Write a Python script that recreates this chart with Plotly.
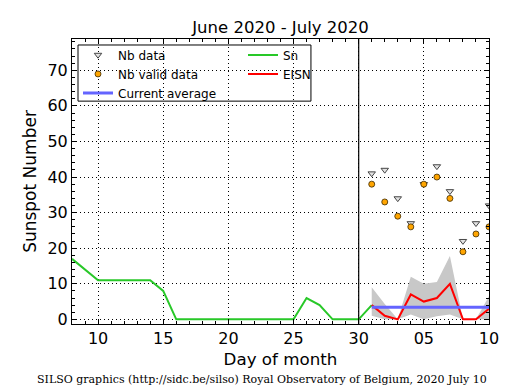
import plotly.graph_objects as go

# ---- data ----
sn_days = [8, 9, 10, 11, 12, 13, 14, 15, 16, 17, 18, 19, 20, 21, 22, 23, 24, 25, 26, 27, 28, 29, 30, 31]
sn_values = [17, 14, 11, 11, 11, 11, 11, 8, 0, 0, 0, 0, 0, 0, 0, 0, 0, 0, 6, 4, 0, 0, 0, 4]

eisn_days = [31, 32, 33, 34, 35, 36, 37, 38, 39, 40]
eisn_values = [4, 1, 0, 7, 5, 6, 10, 0, 0, 3]
eisn_upper = [9, 4.3, 0, 12, 10, 10.5, 17.8, 0, 0, 6.5]
eisn_lower = [1, 0, 0, 1.4, 0, 0.9, 1.4, 0, 0, 0]

nb_data = [41, 42, 34, 27, 38, 43, 36, 22, 27, 32]
nb_valid = [38, 33, 29, 26, 38, 40, 34, 19, 24, 26]

current_average = 3.4

tick_vals = [10, 15, 20, 25, 30, 35, 40]
tick_text = ["10", "15", "20", "25", "30", "05", "10"]
month_boundary = 30

FONT = "DejaVu Sans"

fig = go.Figure()

# uncertainty band
fig.add_trace(go.Scatter(x=eisn_days, y=eisn_upper, mode="lines", line=dict(width=0),
                         showlegend=False, hoverinfo="skip"))
fig.add_trace(go.Scatter(x=eisn_days, y=eisn_lower, mode="lines", line=dict(width=0),
                         fill="tonexty", fillcolor="rgb(200,200,200)",
                         showlegend=False, hoverinfo="skip"))

# legend order (row-wise): Nb data, Sn, Nb valid data, EISN, Current average
fig.add_trace(go.Scatter(x=eisn_days, y=nb_data, mode="markers", name="Nb data",
                         marker=dict(symbol="triangle-down", size=6.5, color="rgb(225,225,225)",
                                     line=dict(color="rgb(70,70,70)", width=1))))
fig.add_trace(go.Scatter(x=sn_days, y=sn_values, mode="lines", name="Sn",
                         line=dict(color="rgb(40,200,40)", width=2)))
fig.add_trace(go.Scatter(x=eisn_days, y=nb_valid, mode="markers", name="Nb valid data",
                         marker=dict(symbol="circle", size=6, color="orange",
                                     line=dict(color="rgb(60,40,0)", width=0.8))))
fig.add_trace(go.Scatter(x=eisn_days, y=eisn_values, mode="lines", name="EISN",
                         line=dict(color="red", width=2)))
fig.add_trace(go.Scatter(x=[eisn_days[0], eisn_days[-1]], y=[current_average, current_average],
                         mode="lines", name="Current average",
                         line=dict(color="rgb(100,100,255)", width=3)))

# month boundary line
fig.add_shape(type="line", xref="x", yref="paper", x0=month_boundary, x1=month_boundary,
              y0=0, y1=1, line=dict(color="black", width=1.2), layer="above")

# legend box
fig.add_shape(type="rect", xref="paper", yref="paper", x0=0.0144, x1=0.573, y0=0.782, y1=0.979,
              line=dict(color="black", width=1), fillcolor="white", layer="between")

fig.update_layout(
    width=515, height=390,
    margin=dict(l=72, r=26, t=39, b=66),
    paper_bgcolor="white", plot_bgcolor="white",
    font=dict(family=FONT, color="black"),
    title=dict(text="June 2020 - July 2020", x=0.5, xanchor="center", y=0.93, yanchor="middle",
               xref="paper", font=dict(size=16.5, family=FONT)),
    showlegend=True,
    legend=dict(orientation="h", x=0.0144, y=0.995, xanchor="left", yanchor="top",
                bgcolor="rgba(0,0,0,0)", borderwidth=0, entrywidth=120,
                font=dict(size=12, family=FONT), itemwidth=30, traceorder="normal"),
    annotations=[dict(text="SILSO graphics (http://sidc.be/silso) Royal Observatory of Belgium, 2020 July 10",
                      xref="paper", yref="paper", x=0.455, y=-0.193, xanchor="center", yanchor="middle",
                      showarrow=False, font=dict(family="DejaVu Serif", size=11, color="black"))],
)

fig.update_xaxes(range=[8, 40], tickvals=tick_vals, ticktext=tick_text,
                 showline=True, linecolor="black", linewidth=1, mirror="ticks",
                 ticks="inside", ticklen=5, tickcolor="black",
                 showgrid=True, gridcolor="black", griddash="1px,3px", gridwidth=1,
                 zeroline=False, tickfont=dict(size=16),
                 title=dict(text="Day of month", font=dict(size=16.7), standoff=6),
                 minor=dict(dtick=1, ticks="inside", ticklen=3, tickcolor="black", showgrid=False))
fig.update_yaxes(range=[-1.3, 78.8], tickvals=[0, 10, 20, 30, 40, 50, 60, 70],
                 showline=True, linecolor="black", linewidth=1, mirror="ticks",
                 ticks="inside", ticklen=5, tickcolor="black",
                 showgrid=True, gridcolor="black", griddash="1px,3px", gridwidth=1,
                 zeroline=False, tickfont=dict(size=16),
                 title=dict(text="Sunspot Number", font=dict(size=17), standoff=6),
                 minor=dict(dtick=2, ticks="inside", ticklen=3, tickcolor="black", showgrid=False))

fig.write_html("out.html", config={"displayModeBar": False},
               post_script="document.body.style.margin='0';")
